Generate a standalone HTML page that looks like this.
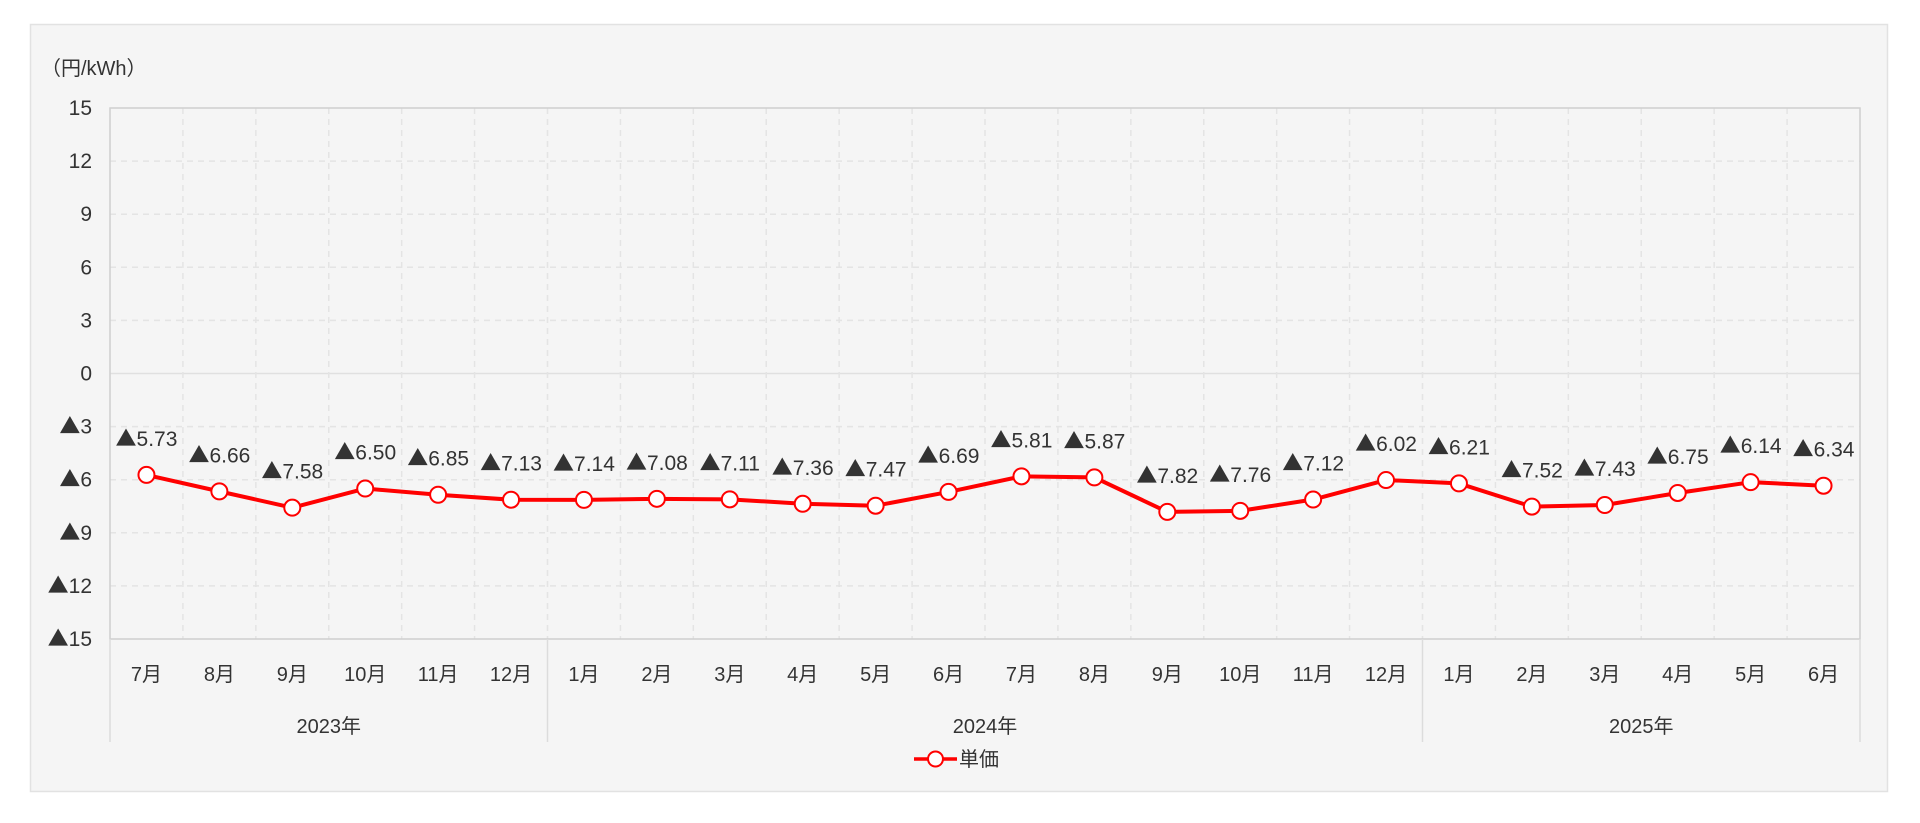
<!DOCTYPE html>
<html><head><meta charset="utf-8"><style>
html,body{margin:0;padding:0;background:#fff;}
svg text{font-family:"Liberation Sans","Noto Sans CJK JP",sans-serif;fill:#333;}
svg tspan.tri{font-family:"Noto Sans CJK JP",sans-serif;}
</style></head><body>
<svg id="chart" width="1920" height="818" viewBox="0 0 1920 818" xmlns="http://www.w3.org/2000/svg">
<rect x="30.5" y="24.5" width="1857" height="767" fill="#f5f5f5" stroke="#e2e2e2" stroke-width="1.5"/>
<text x="41" y="75" font-size="20">（円/kWh）</text>
<g id="grid"></g>
<g id="axes"></g>
<g id="series"></g>
<g>
<line x1="914" y1="759" x2="957" y2="759" stroke="#ff0000" stroke-width="3.5"/>
<circle cx="935.5" cy="759" r="7.5" fill="#fff" stroke="#ff0000" stroke-width="2"/>
<text x="959" y="766" font-size="20">単価</text>
</g>
</svg>
<script>
const months=["7月","8月","9月","10月","11月","12月","1月","2月","3月","4月","5月","6月","7月","8月","9月","10月","11月","12月","1月","2月","3月","4月","5月","6月"];
const years=["2023年","2024年","2025年"];
const yearSpans=[6,12,6];
const values=[-5.73,-6.66,-7.58,-6.50,-6.85,-7.13,-7.14,-7.08,-7.11,-7.36,-7.47,-6.69,-5.81,-5.87,-7.82,-7.76,-7.12,-6.02,-6.21,-7.52,-7.43,-6.75,-6.14,-6.34];
const yTicks=[15,12,9,6,3,0,-3,-6,-9,-12,-15];

const NS="http://www.w3.org/2000/svg";
const L=110,R=1860,T=108,B=639,yMin=-15,yMax=15;
const bw=(R-L)/months.length;
const x=i=>L+bw*(i+0.5);
const y=v=>T+(yMax-v)/(yMax-yMin)*(B-T);
function mk(tag,attrs,parent){const e=document.createElementNS(NS,tag);for(const k in attrs)e.setAttribute(k,attrs[k]);parent.appendChild(e);return e;}
const grid=document.getElementById('grid'),axes=document.getElementById('axes'),ser=document.getElementById('series');
function fill(t,v,dec){
  if(v<0){const s=mk('tspan',{class:'tri'},t);s.textContent='▲';}
  const s2=mk('tspan',{},t);s2.textContent=dec?Math.abs(v).toFixed(2):String(Math.abs(v));
}

yTicks.forEach(t=>{
  const yy=y(t);
  if(t!==yMax&&t!==yMin){
    const g=mk('line',{x1:L,x2:R,y1:yy,y2:yy,stroke:t===0?'#e0e0e0':'#e4e4e4','stroke-width':1.5,'stroke-dasharray':t===0?'':'6,5'},grid);
    
    
  }
  const tx=mk('text',{x:92,y:yy+7,'text-anchor':'end','font-size':21},axes);
  fill(tx,t,false);
  
  
});
for(let i=1;i<months.length;i++){
  const g=mk('line',{x1:L+bw*i,x2:L+bw*i,y1:T,y2:B,stroke:'#e4e4e4','stroke-width':1.5,'stroke-dasharray':'6,5'},grid);
  
  
}
const frame=mk('rect',{x:L,y:T,width:R-L,height:B-T,fill:'none',stroke:'#cfcfcf','stroke-width':1.5},axes);


months.forEach((m,i)=>{
  const t=mk('text',{x:x(i),y:681,'text-anchor':'middle','font-size':20},axes);
  t.textContent=m;
  
  
});
let acc=0;
const dl=mk('line',{x1:L,x2:L,y1:B,y2:742,stroke:'#dcdcdc','stroke-width':1.5},axes);


years.forEach((yr,k)=>{
  const s=acc;acc+=yearSpans[k];
  const cx=L+bw*(s+acc)/2;
  const t=mk('text',{x:cx,y:733,'text-anchor':'middle','font-size':20},axes);
  t.textContent=yr;
  
  
  const d=mk('line',{x1:L+bw*acc,x2:L+bw*acc,y1:B,y2:742,stroke:'#dcdcdc','stroke-width':1.5},axes);
  
  
});
const pl=mk('polyline',{points:values.map((v,i)=>x(i)+','+y(v)).join(' '),fill:'none',stroke:'#ff0000','stroke-width':4,'stroke-linejoin':'round'},ser);


values.forEach((v,i)=>{
  const c=mk('circle',{cx:x(i),cy:y(v),r:8,fill:'#fff',stroke:'#ff0000','stroke-width':2},ser);
  
  
  const t=mk('text',{x:x(i),y:y(v)-29,'text-anchor':'middle','font-size':21},ser);
  fill(t,v,true);
  
  
});
</script>
</body></html>
